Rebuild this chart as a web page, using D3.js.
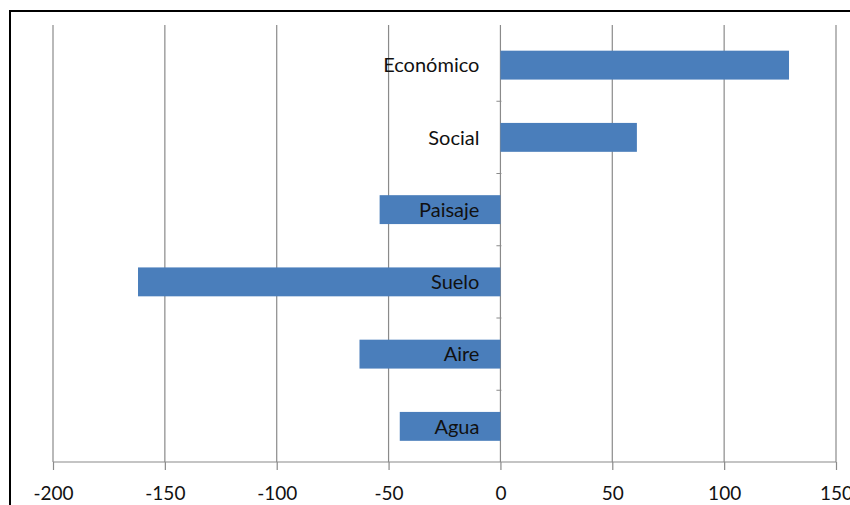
<!DOCTYPE html>
<html>
<head>
<meta charset="utf-8">
<script src="https://cdn.jsdelivr.net/npm/d3@7"></script>
<style>
  html, body { margin: 0; padding: 0; background: #fff; }
  svg { display: block; }
  text { font-family: Lato, "Open Sans", sans-serif; }
</style>
</head>
<body>
<svg id="chart" width="850" height="505"></svg>
<script>
// Impact by dimension
const categories = ["Económico", "Social", "Paisaje", "Suelo", "Aire", "Agua"];
const values = [129, 61, -54, -162, -63, -45];
const tickValues = [-200, -150, -100, -50, 0, 50, 100, 150];

const svg = d3.select("#chart");
const plot = { left: 53, right: 836, top: 25, bottom: 462 };

// Outer frame
svg.append("rect")
  .attr("x", 10).attr("y", 11)
  .attr("width", 900).attr("height", 600)
  .attr("fill", "none").attr("stroke", "#000").attr("stroke-width", 2);

const x = d3.scaleLinear().domain([-200, 150]).range([plot.left, plot.right]);
const y = d3.scaleBand().domain(categories).range([29, 462.5]).paddingInner(0.6).paddingOuter(0.3);

// Vertical gridlines
svg.append("g").selectAll("line")
  .data(tickValues)
  .join("line")
  .attr("x1", d => x(d)).attr("x2", d => x(d))
  .attr("y1", plot.top).attr("y2", plot.bottom)
  .attr("stroke", "#8a8a8a").attr("stroke-width", 1.2);

// Bars
svg.append("g").selectAll("rect")
  .data(categories)
  .join("rect")
  .attr("x", (d, i) => x(Math.min(0, values[i])))
  .attr("width", (d, i) => Math.abs(x(values[i]) - x(0)))
  .attr("y", d => y(d))
  .attr("height", y.bandwidth())
  .attr("fill", "#4a7ebb");

// Bottom value axis
const xAxis = d3.axisBottom(x).tickValues(tickValues).tickSize(8).tickPadding(17).tickFormat(d => String(d));
const gx = svg.append("g")
  .attr("transform", `translate(0,${plot.bottom})`)
  .call(xAxis);
gx.select(".domain").attr("stroke", "#8a8a8a").attr("stroke-width", 1.2).attr("d", `M${plot.left},0H${plot.right}`);
gx.selectAll(".tick line").attr("stroke", "#8a8a8a").attr("stroke-width", 1.2);
gx.selectAll(".tick text")
  .attr("fill", "#111")
  .style("font-size", "19px")
  .style("font-family", "Lato, 'Open Sans', sans-serif");

// Category axis at zero with small separators
const step = y.step();
const boundaries = categories.slice(1).map(c => y(c) - (step - y.bandwidth()) / 2);
svg.append("g").selectAll("line")
  .data(boundaries)
  .join("line")
  .attr("x1", x(0) - 4).attr("x2", x(0) + 1)
  .attr("y1", d => d).attr("y2", d => d)
  .attr("stroke", "#8a8a8a").attr("stroke-width", 1);

// Category labels
svg.append("g").selectAll("text")
  .data(categories)
  .join("text")
  .attr("x", x(0) - 21)
  .attr("y", d => y(d) + y.bandwidth() / 2)
  .attr("dy", "0.36em")
  .attr("text-anchor", "end")
  .attr("fill", "#111")
  .style("font-size", "20px")
  .text(d => d);
</script>
</body>
</html>
